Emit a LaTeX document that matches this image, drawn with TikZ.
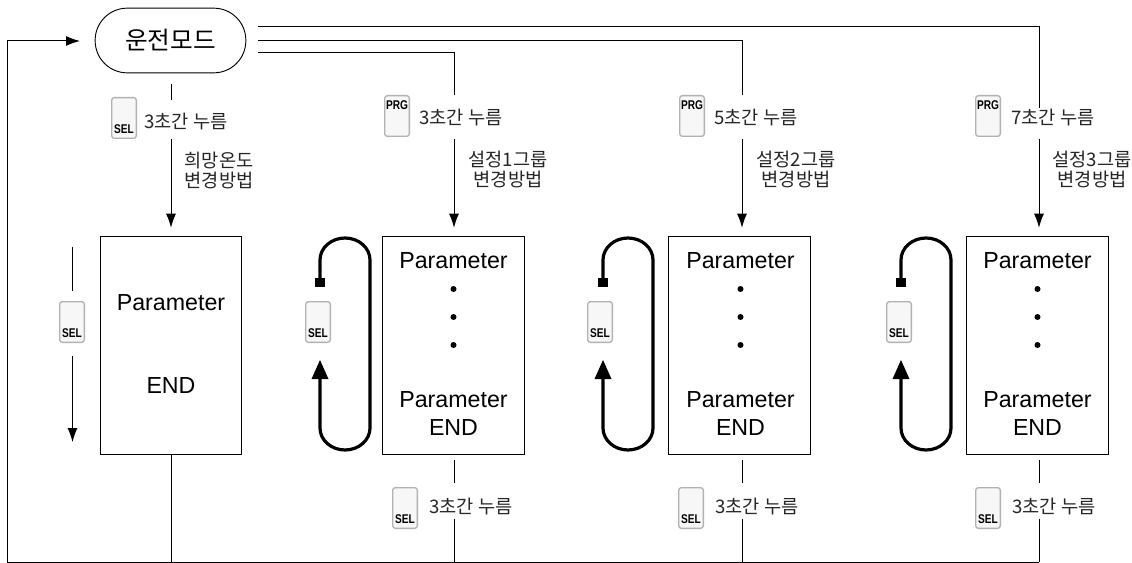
\documentclass[tikz,border=0pt]{standalone}
\usepackage{fontspec}
\setmainfont{Liberation Sans}
\newfontfamily\krfont{Noto Sans CJK KR}
\usetikzlibrary{arrows.meta}
\tikzset{
  conn/.style={draw=black,line width=0.75pt},
  flow/.style={conn,-{Latex[length=10.5pt,width=7.5pt]}},
  modebox/.style={draw=black,line width=0.7pt,minimum width=106pt,minimum height=164pt,inner sep=0pt},
  pill/.style={draw=black,line width=0.7pt,rounded corners=24pt,minimum width=113pt,minimum height=48.5pt,inner sep=0pt,font=\krfont\fontsize{18.5}{18.5}\selectfont},
  klabel/.style={inner sep=0pt,align=center,font=\krfont\fontsize{14}{15}\selectfont,text=black!85},
  param/.style={inner sep=0pt,font=\fontsize{17.4}{17.4}\selectfont},
  keycap/.style={draw=black!30,fill=black!3,line width=1pt,rounded corners=2pt,minimum width=18.5pt,minimum height=30.5pt,inner sep=0pt},
  keytext/.style={inner sep=0pt,xscale=0.8,font=\bfseries\fontsize{9.5}{9.5}\selectfont},
  loopline/.style={draw=black,line width=2.4pt},
  dotmark/.style={circle,fill=black,minimum size=4.5pt,inner sep=0pt}
}
\newcommand{\selkey}[3]{%
  \node[keycap] (#1) at (#2,#3) {};
  \node[keytext] (#1t) at (#2,#3+11) {SEL};}
\newcommand{\prgkey}[3]{%
  \node[keycap] (#1) at (#2,#3) {};
  \node[keytext] (#1t) at (#2,#3-11) {PRG};}
\newcommand{\loopat}[2]{% #1 id, #2 left x
  \coordinate (#1a) at (#2,283);
  \coordinate (#1b) at (#2,260);
  \coordinate (#1c) at (#2+50,260);
  \coordinate (#1d) at (#2+50,428);
  \coordinate (#1e) at (#2,428);
  \coordinate (#1f) at (#2,360);
  \draw[loopline] (#1a) -- (#1b) arc[start angle=180,end angle=360,x radius=25,y radius=22] -- (#1d) arc[start angle=0,end angle=180,x radius=25,y radius=22] -- ([yshift=-6pt]#1f);
  \fill (#1f) -- ++(-8.5,19) -- ++(17,0) -- cycle;
  \fill ([xshift=-3.5pt,yshift=-3pt]#1a) rectangle ([xshift=3.5pt,yshift=4pt]#1a);
}
\begin{document}
\begin{tikzpicture}[x=0.75pt,y=-0.75pt]
\useasboundingbox (0,0) rectangle (1132,563);
\node[pill] (mode) at (170.5,40.5) {운전모드};
\node[modebox] (b1) at (171,345.5) {};
\node[modebox] (b2) at (453.5,345.5) {};
\node[modebox] (b3) at (739.5,345.5) {};
\node[modebox] (b4) at (1037.5,345.5) {};
% box texts
\node[param] (p1) at (171,303) {Parameter};
\node[param] (e1) at (171,386) {END};
\foreach \i/\x in {2/453.5,3/740.5,4/1037.5}{
  \node[param] (p\i) at (\x,261) {Parameter};
  \node[param] (q\i) at (\x,400) {Parameter};
  \node[param] (e\i) at (\x,428) {END};
  \node[dotmark] (d\i a) at (\x,289) {};
  \node[dotmark] (d\i b) at (\x,317) {};
  \node[dotmark] (d\i c) at (\x,345) {};
}
% keys
\selkey{k1}{124}{118}
\prgkey{k2}{397}{116}
\prgkey{k3}{692}{116}
\prgkey{k4}{988}{116}
\selkey{s1}{72}{322}
\selkey{s2}{318}{322}
\selkey{s3}{600}{322}
\selkey{s4}{899}{322}
\selkey{r2}{405}{508}
\selkey{r3}{691}{508}
\selkey{r4}{988}{508}
% labels
\node[klabel,anchor=west] (l1) at (144,121.5) {3초간 누름};
\node[klabel,anchor=west] (l2) at (419,117.5) {3초간 누름};
\node[klabel,anchor=west] (l3) at (714,117.5) {5초간 누름};
\node[klabel,anchor=west] (l4) at (1011,117.5) {7초간 누름};
\node[klabel] (m1) at (219,171) {희망온도\\변경방법};
\node[klabel] (m2) at (508,170) {설정1그룹\\변경방법};
\node[klabel] (m3) at (796,170) {설정2그룹\\변경방법};
\node[klabel] (m4) at (1092,170) {설정3그룹\\변경방법};
\node[klabel,anchor=west] (u2) at (429,507) {3초간 누름};
\node[klabel,anchor=west] (u3) at (715,507) {3초간 누름};
\node[klabel,anchor=west] (u4) at (1012,507) {3초간 누름};
% free ends
\coordinate (o1) at (258,53);
\coordinate (o2) at (258,41);
\coordinate (o3) at (258,27);
\coordinate (t1a) at (171,84); \coordinate (t1b) at (171,100);
\coordinate (t1c) at (171,139);
\coordinate (t2a) at (454,95); \coordinate (t2c) at (454,139);
\coordinate (t3a) at (742,95); \coordinate (t3c) at (742,139);
\coordinate (t4a) at (1039,108); \coordinate (t4c) at (1039,139);
\coordinate (ret) at (7,41);
\coordinate (retb) at (7,562);
\coordinate (bend) at (1039,562);
% top connectors
\draw[conn] (t1a) -- (t1b);
\draw[conn] (o1) -| (t2a);
\draw[conn] (o2) -| (t3a);
\draw[conn] (o3) -| (t4a);
\draw[flow] (t1c) -- ([yshift=6pt]b1.north -| t1c);
\draw[flow] (t2c) -- ([yshift=6pt]b2.north -| t2c);
\draw[flow] (t3c) -- ([yshift=6pt]b3.north -| t3c);
\draw[flow] (t4c) -- ([yshift=6pt]b4.north -| t4c);
% return
\draw[conn] (bend) -- (retb) -- (ret);
\draw[flow] (ret) -- (80,41);
\draw[conn] (b1.south -| t1c) -- (171,562);
\foreach \i/\x in {2/454,3/742,4/1039}{
  \draw[conn] (\x,460) -- (\x,483);
  \draw[conn] (\x,519) -- (\x,562);
}
% left key arrow
\coordinate (a1) at (72.5,247); \coordinate (a2) at (72.5,291);
\coordinate (a3) at (72.5,356); \coordinate (a4) at (72.5,442);
\draw[conn] (a1) -- (a2);
\draw[flow] (a3) -- (a4);
% loops
\loopat{A}{320}
\loopat{B}{603}
\loopat{C}{901}
\end{tikzpicture}
\end{document}
